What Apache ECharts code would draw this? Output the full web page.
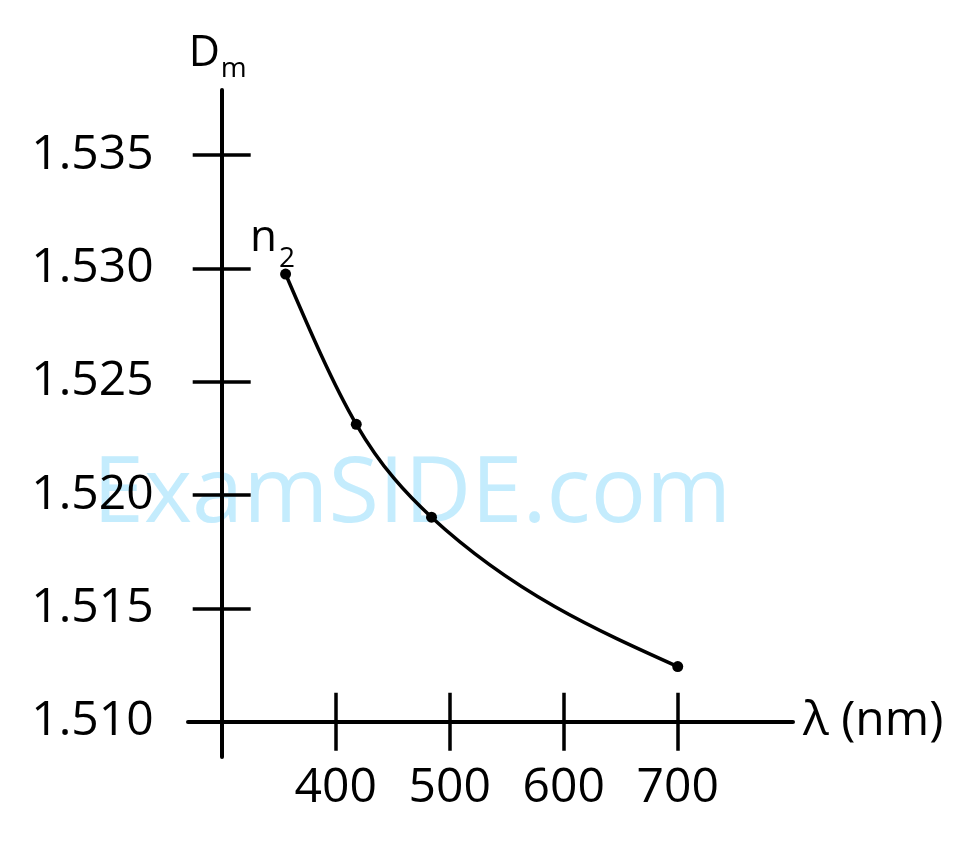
<!DOCTYPE html>
<html><head><meta charset="utf-8">
<script src="https://cdn.jsdelivr.net/npm/echarts@6/dist/echarts.min.js"></script>
<style>html,body{margin:0;padding:0;background:#fff}#c{width:978px;height:851px}</style>
</head><body><div id="c"></div>
<script>
// ---- data ----
const wavelengths = [356, 418, 484, 700];
const dmValues = [1.52975, 1.52312, 1.51902, 1.51243];
const xTickValues = [400, 500, 600, 700];
const yTickValues = [1.510, 1.515, 1.520, 1.525, 1.530, 1.535];
const pointLabels = ['n2', '', '', ''];
const watermarkText = 'ExamSIDE.com';

const FONT = '"Open Sans", "Noto Sans", sans-serif';
const xRange = [270.4, 801.1];
const yRange = [1.50844, 1.53787];
const AXW = 4, TKW = 3.5, CW = 3.5;

const chart = echarts.init(document.getElementById('c'), null, {renderer: 'canvas'});

const points = wavelengths.map((x, i) => [x, dmValues[i]]);

const scatterData = points.map((p, i) => {
  const item = {value: p};
  if (pointLabels[i]) {
    item.label = {
      show: true,
      position: 'top',
      distance: 4,
      offset: [-13, -4],
      formatter: '{n|n}{s|2}',
      rich: {
        n: {fontSize: 44, fontFamily: FONT, color: '#000', verticalAlign: 'bottom', lineHeight: 50},
        s: {fontSize: 28, fontFamily: FONT, color: '#000', verticalAlign: 'bottom', lineHeight: 30, padding: [0, 0, -12, 2]}
      }
    };
  }
  return item;
});

// smooth curve through the data points (natural cubic spline in pixel space)
function curveRenderItem(params, api) {
  if (params.dataIndex !== 0) return null;
  const px = points.map(p => api.coord(p));
  const n = px.length;
  const h = [], s = [];
  for (let i = 0; i < n - 1; i++) {
    h.push(px[i + 1][0] - px[i][0]);
    s.push((px[i + 1][1] - px[i][1]) / h[i]);
  }
  const M = new Array(n).fill(0);
  const m = n - 2;
  if (m > 0) {
    const a = [], b = [], c = [], d = [];
    for (let k = 1; k <= m; k++) {
      a.push(h[k - 1]); b.push(2 * (h[k - 1] + h[k])); c.push(h[k]); d.push(6 * (s[k] - s[k - 1]));
    }
    for (let k = 1; k < m; k++) {
      const w = a[k] / b[k - 1];
      b[k] -= w * c[k - 1];
      d[k] -= w * d[k - 1];
    }
    const sol = new Array(m);
    sol[m - 1] = d[m - 1] / b[m - 1];
    for (let k = m - 2; k >= 0; k--) sol[k] = (d[k] - c[k] * sol[k + 1]) / b[k];
    for (let k = 0; k < m; k++) M[k + 1] = sol[k];
  }
  let path = 'M' + px[0][0] + ' ' + px[0][1];
  for (let i = 0; i < n - 1; i++) {
    const d0 = s[i] - h[i] * (2 * M[i] + M[i + 1]) / 6;
    const d1 = s[i] + h[i] * (M[i] + 2 * M[i + 1]) / 6;
    const t = h[i] / 3;
    path += ' C' + (px[i][0] + t) + ' ' + (px[i][1] + d0 * t) + ' ' +
            (px[i + 1][0] - t) + ' ' + (px[i + 1][1] - d1 * t) + ' ' +
            px[i + 1][0] + ' ' + px[i + 1][1];
  }
  return {
    type: 'path',
    shape: {pathData: path},
    style: {stroke: '#000', lineWidth: CW, fill: null}
  };
}

function xAxis(main) {
  return {
    type: 'value', min: xRange[0], max: xRange[1], position: 'bottom', offset: -35.3,
    axisLine: {show: main, lineStyle: {color: '#000', width: AXW}},
    axisTick: {show: true, inside: !main, length: 29, customValues: xTickValues, lineStyle: {color: '#000', width: TKW}},
    axisLabel: {show: main, customValues: xTickValues, margin: 43, fontSize: 48, fontFamily: FONT, color: '#000'},
    splitLine: {show: false},
    name: main ? 'λ (nm)' : '', nameLocation: 'end', nameGap: 10,
    nameTextStyle: {fontSize: 48, fontFamily: FONT, color: '#000', verticalAlign: 'middle', padding: [6, 0, 0, 0]}
  };
}
function yAxis(main) {
  return {
    type: 'value', min: yRange[0], max: yRange[1], position: 'left', offset: -33.7,
    axisLine: {show: main, lineStyle: {color: '#000', width: AXW}},
    axisTick: {show: true, inside: !main, length: 29, customValues: yTickValues, lineStyle: {color: '#000', width: TKW}},
    axisLabel: {show: main, customValues: yTickValues, margin: 68, fontSize: 48, fontFamily: FONT, color: '#000',
      padding: [5, 0, 0, 0], formatter: v => v.toFixed(3)},
    splitLine: {show: false},
    name: main ? '{D|D}{m|m}' : '', nameLocation: 'end', nameGap: 15,
    nameTextStyle: {
      padding: [0, 8, 0, 0],
      rich: {
        D: {fontSize: 43, fontFamily: FONT, color: '#000', verticalAlign: 'bottom', lineHeight: 48},
        m: {fontSize: 28, fontFamily: FONT, color: '#000', verticalAlign: 'bottom', lineHeight: 30, padding: [0, 0, -8, 1]}
      }
    }
  };
}

chart.setOption({
  animation: false,
  backgroundColor: '#fff',
  grid: {left: 188, right: 185, top: 90, bottom: 94, containLabel: false, outerBoundsMode: 'none'},
  xAxis: [xAxis(true), xAxis(false)],
  yAxis: [yAxis(true), yAxis(false)],
  graphic: [{
    type: 'text', z: -10, x: 412, y: 496,
    style: {text: watermarkText, fill: '#c4ecfd', fontSize: 92, fontFamily: FONT, align: 'center', verticalAlign: 'middle'}
  }],
  series: [{
    type: 'custom', xAxisIndex: 0, yAxisIndex: 0, data: points, renderItem: curveRenderItem,
    clip: false, z: 4, silent: true
  }, {
    type: 'scatter', xAxisIndex: 0, yAxisIndex: 0, data: scatterData,
    symbol: 'circle', symbolSize: 11, itemStyle: {color: '#000', opacity: 1}, z: 5
  }]
});
</script></body></html>
